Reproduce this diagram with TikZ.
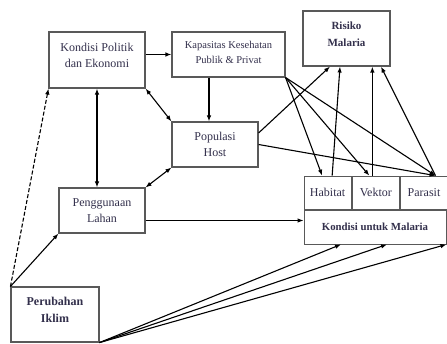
\documentclass[tikz,border=0pt]{standalone}
\usepackage{fontspec}
\setmainfont{Liberation Serif}
\usepackage{xcolor}
\usetikzlibrary{arrows.meta, positioning, calc}
\definecolor{txtc}{rgb}{0.2,0.19,0.3}
\definecolor{boxc}{rgb}{0.35,0.35,0.35}

\begin{document}
\begin{tikzpicture}[
        x=1pt, y=-1pt,
        box/.style={rectangle, draw=boxc, line width=1.1pt, fill=white, align=center, text=txtc, font=\fontsize{12}{16}\selectfont, inner sep=0pt},
        cell/.style={rectangle, draw=boxc, line width=0.9pt, fill=white, align=center, text=txtc, inner sep=0pt},
        arr/.style={-{Latex[length=6pt,width=4.5pt]}, line width=1.1pt},
        darr/.style={{Latex[length=6pt,width=4.5pt]}-{Latex[length=6pt,width=4.5pt]}, line width=1.1pt}
    ]
    \useasboundingbox (0,0) rectangle (447,344);

    \node[box, minimum width=96pt, minimum height=56pt, text depth=10pt] (polit) at (97,60) {Kondisi Politik\\dan Ekonomi};
    \node[box, minimum width=113pt, minimum height=45pt, text depth=5pt, font=\fontsize{10.5}{15}\selectfont] (kapas) at (228.5,54.5) {Kapasitas Kesehatan\\Publik \& Privat};
    \node[box, minimum width=87pt, minimum height=55pt, text depth=9pt, font=\fontsize{11}{17}\selectfont\bfseries] (risiko) at (346.5,38.5) {Risiko\\Malaria};
    \node[box, minimum width=86pt, minimum height=45pt] (popul) at (215,144.5) {Populasi\\Host};
    \node[box, minimum width=86pt, minimum height=45pt] (lahan) at (102,210.5) {Penggunaan\\Lahan};
    \node[box, minimum width=88pt, minimum height=55pt, text depth=9pt, font=\fontsize{12}{17}\selectfont\bfseries] (iklim) at (55,314.5) {Perubahan\\Iklim};

    % Kondisi untuk Malaria
    \node[cell, minimum width=142pt, minimum height=34pt, font=\fontsize{10.8}{13}\selectfont\bfseries] (kum) at (375,227) {Kondisi untuk Malaria};
    \node[cell, minimum width=47.3pt, minimum height=33pt, font=\fontsize{12}{14}\selectfont, anchor=south west] (habitat) at (kum.north west) {Habitat};
    \node[cell, minimum width=47.3pt, minimum height=33pt, font=\fontsize{12}{14}\selectfont, right=0pt of habitat] (vektor) {Vektor};
    \node[cell, minimum width=47.3pt, minimum height=33pt, font=\fontsize{12}{14}\selectfont, right=0pt of vektor] (parasit) {Parasit};

    \draw[arr] (polit.east |- kapas.west) -- (kapas.west);
    \draw[darr] (polit.south east) -- (popul.north west);
    \draw[arr] ([xshift=-19.5pt]kapas.south) -- ([xshift=-19.5pt]kapas.south |- popul.north);
    \draw[darr] (polit.south) -- (polit.south |- lahan.north);
    \draw[darr] (popul.south west) -- (lahan.north east);
    \draw[arr, dashed, dash pattern=on 4pt off 2pt] (iklim.north west) -- (polit.south west);
    \draw[arr] (iklim.north west) -- (lahan.south west);
    \draw[arr] ([yshift=-10pt]lahan.east) -- ([yshift=-10pt]lahan.east -| kum.west);

    % Iklim ke kondisi
    \draw[arr] (iklim.south east) -- ([xshift=-34pt]kum.south);
    \draw[arr] (iklim.south east) -- ([xshift=12pt]kum.south);
    \draw[arr] (iklim.south east) -- (kum.south east);

    % Kapasitas ke habitat, vektor, parasit
    \draw[arr] (kapas.south east) -- ([xshift=-5.5pt]habitat.north);
    \draw[arr] (kapas.south east) -- ([xshift=-6.5pt]vektor.north);
    \draw[arr] (kapas.south east) -- ([xshift=11.5pt]parasit.north);

    % Populasi
    \draw[arr] ([yshift=11.5pt]popul.east) -- ([xshift=-16.5pt]risiko.south);
    \draw[arr] (popul.east) -- ([xshift=11.5pt]parasit.north);

    % Ke risiko
    \draw[arr] ([xshift=4.5pt]habitat.north) -- ([xshift=-6.5pt]risiko.south);
    \draw[arr] ([xshift=-3.5pt]vektor.north) -- ([xshift=-3.5pt]vektor.north |- risiko.south);
    \draw[arr] ([xshift=11.5pt]parasit.north) -- ([xshift=34.5pt]risiko.south);
\end{tikzpicture}
\end{document}
